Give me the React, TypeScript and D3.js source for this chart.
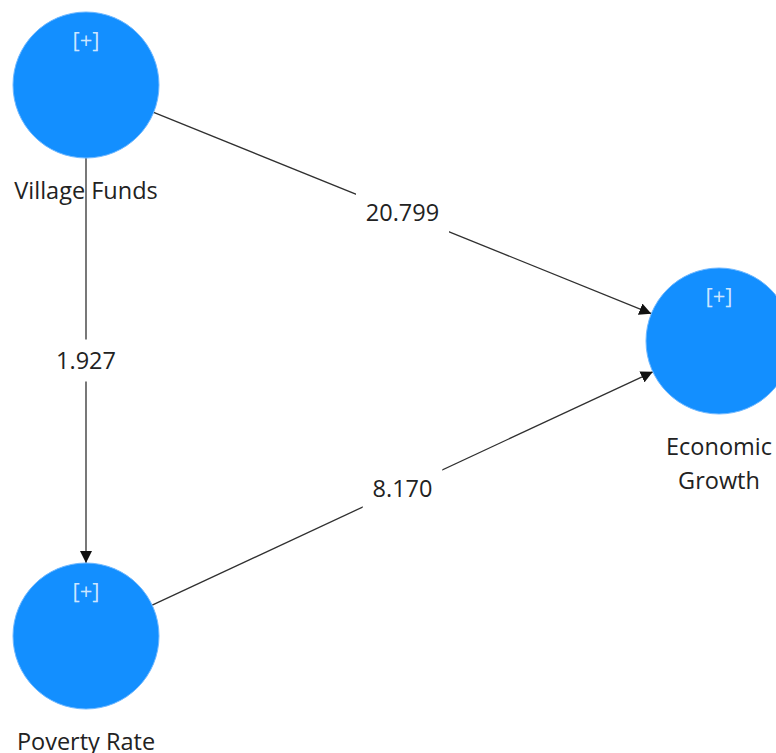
import { useMemo } from 'react';
import { scaleLinear } from 'd3';

// Path model: constructs laid out in model units, edges carry the path coefficients / t-values
const NODE_NAMES = ['Village Funds', 'Poverty Rate', 'Economic Growth'];
const NODE_LABEL_LINES = [['Village Funds'], ['Poverty Rate'], ['Economic', 'Growth']];
const NODE_COL = [0, 0, 1];
const NODE_ROW = [0, 1, 0.4646];

const EDGE_FROM = ['Village Funds', 'Village Funds', 'Poverty Rate'];
const EDGE_TO = ['Economic Growth', 'Poverty Rate', 'Economic Growth'];
const EDGE_VALUES = ['20.799', '1.927', '8.170'];

const W = 776;
const H = 753;
const R = 73;
const NODE_FILL = '#138fff';
const LINE_COLOR = '#303030';
const TEXT_COLOR = '#222';
const FONT = "'Open Sans', 'Noto Sans', sans-serif";

export default function App() {
  const x = useMemo(() => scaleLinear().domain([0, 1]).range([86, 719]), []);
  const y = useMemo(() => scaleLinear().domain([0, 1]).range([85, 636]), []);

  const nodes = NODE_NAMES.map((name, i) => ({
    name,
    lines: NODE_LABEL_LINES[i],
    cx: x(NODE_COL[i]),
    cy: y(NODE_ROW[i]),
  }));
  const byName = new Map(nodes.map((n) => [n.name, n]));

  const edges = EDGE_FROM.map((f, i) => {
    const a = byName.get(f)!;
    const b = byName.get(EDGE_TO[i])!;
    const dx = b.cx - a.cx;
    const dy = b.cy - a.cy;
    const len = Math.hypot(dx, dy);
    const ux = dx / len;
    const uy = dy / len;
    return {
      x1: a.cx + ux * R,
      y1: a.cy + uy * R,
      x2: b.cx - ux * R,
      y2: b.cy - uy * R,
      mx: (a.cx + b.cx) / 2,
      my: (a.cy + b.cy) / 2,
      value: EDGE_VALUES[i],
    };
  });

  return (
    <svg
      width={W}
      height={H}
      style={{ position: 'fixed', left: 0, top: 0, display: 'block', background: '#fff' }}
    >
      <defs>
        <marker
          id="arrow"
          viewBox="0 0 12 12"
          refX={12}
          refY={6}
          markerWidth={12}
          markerHeight={12}
          markerUnits="userSpaceOnUse"
          orient="auto"
        >
          <path d="M0,0 L12,6 L0,12 Z" fill="#111" />
        </marker>
      </defs>

      {/* Edges */}
      {edges.map((e, i) => (
        <line
          key={`e-${i}`}
          x1={e.x1} y1={e.y1} x2={e.x2} y2={e.y2}
          stroke={LINE_COLOR} strokeWidth={1.3}
          markerEnd="url(#arrow)"
        />
      ))}

      {/* Edge labels, with a white box that breaks the line */}
      {edges.map((e, i) => {
        const w = e.value.length * 13.5 + 12;
        return (
          <g key={`l-${i}`}>
            <rect x={e.mx - w / 2} y={e.my - 21} width={w} height={42} fill="#fff" />
            <text
              x={e.mx} y={e.my + 8.5}
              textAnchor="middle"
              fontFamily={FONT} fontSize={23.5} fill={TEXT_COLOR}
            >
              {e.value}
            </text>
          </g>
        );
      })}

      {/* Nodes */}
      {nodes.map((n) => (
        <g key={n.name}>
          <circle cx={n.cx} cy={n.cy} r={R} fill={NODE_FILL} stroke="#6fb8ff" strokeWidth={1} />
          <text
            x={n.cx} y={n.cy - 37}
            textAnchor="middle"
            fontFamily={FONT} fontSize={22} fill="#fff" fillOpacity={0.8}
          >
            [+]
          </text>
          {n.lines.map((line, j) => (
            <text
              key={j}
              x={n.cx} y={n.cy + R + 41 + j * 34}
              textAnchor="middle"
              fontFamily={FONT} fontSize={23.5} fill={TEXT_COLOR}
            >
              {line}
            </text>
          ))}
        </g>
      ))}
    </svg>
  );
}
